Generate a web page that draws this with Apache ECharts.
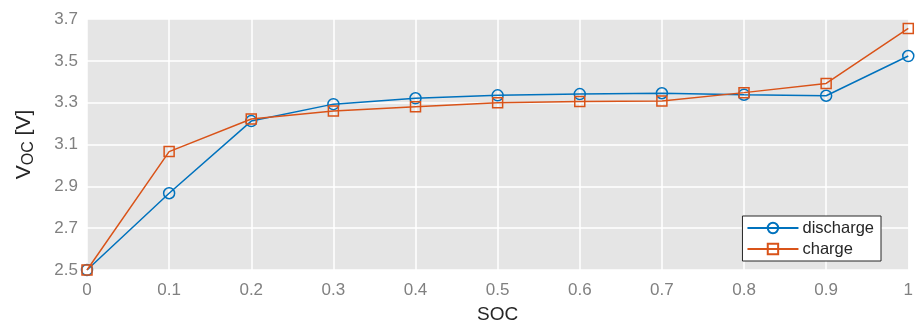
<!DOCTYPE html>
<html>
<head>
<meta charset="utf-8">
<script src="https://cdn.jsdelivr.net/npm/echarts@6/dist/echarts.min.js"></script>
<style>html,body{margin:0;padding:0;background:#fff}#c{width:916px;height:329px}</style>
</head>
<body>
<div id="c"></div>
<script>
const soc = [0, 0.1, 0.2, 0.3, 0.4, 0.5, 0.6, 0.7, 0.8, 0.9, 1];
const discharge = [2.50, 2.867, 3.212, 3.293, 3.321, 3.335, 3.341, 3.345, 3.338, 3.333, 3.523];
const charge = [2.50, 3.066, 3.222, 3.260, 3.281, 3.300, 3.305, 3.308, 3.348, 3.392, 3.655];
const seriesNames = ['discharge', 'charge'];

const chart = echarts.init(document.getElementById('c'));
const pairs = arr => soc.map((s, i) => [s, arr[i]]);
const fmt = v => String(+(+v).toFixed(1));
const blue = '#0072BD', orange = '#D95319';
const ff = 'Liberation Sans, Arial, sans-serif';

chart.setOption({
  animation: false,
  textStyle: { fontFamily: ff },
  grid: { left: 87, right: 5, top: 19, bottom: 59, show: true, backgroundColor: '#e5e5e5', borderWidth: 0 },
  legend: {
    right: 35, top: 216, orient: 'vertical',
    backgroundColor: '#fff', borderColor: '#262626', borderWidth: 1,
    padding: [3, 7, 3, 4], itemGap: 3, itemWidth: 51, itemHeight: 13,
    textStyle: { fontSize: 16.5, lineHeight: 18, color: '#262626', padding: [0, 0, 0, -1] },
    data: seriesNames
  },
  xAxis: {
    type: 'value', min: 0, max: 1, interval: 0.1,
    name: 'SOC', nameLocation: 'middle', nameGap: 35,
    nameTextStyle: { fontSize: 19, color: '#262626' },
    axisLine: { show: false }, axisTick: { show: false },
    axisLabel: { fontSize: 17, color: '#808080', margin: 12, formatter: fmt },
    splitLine: { show: true, lineStyle: { color: '#ffffff', width: 1.5 } }
  },
  yAxis: {
    type: 'value', min: 2.5, max: 3.7, interval: 0.2,
    name: '{v|V}{s|OC}{v| [V]}', nameLocation: 'middle', nameGap: 50, nameRotate: 90,
    nameTextStyle: {
      rich: {
        v: { fontSize: 21, color: '#262626', fontFamily: ff },
        s: { fontSize: 16, color: '#262626', verticalAlign: 'bottom', padding: [9, 0, 0, 0], fontFamily: ff }
      }
    },
    axisLine: { show: false }, axisTick: { show: false },
    axisLabel: { fontSize: 17, color: '#808080', margin: 9, formatter: fmt },
    splitLine: { show: true, lineStyle: { color: '#ffffff', width: 1.5 } }
  },
  series: [
    {
      name: seriesNames[0], type: 'line', data: pairs(discharge),
      symbol: 'circle', symbolSize: 11,
      lineStyle: { color: blue, width: 1.5 },
      itemStyle: { color: 'rgba(0,0,0,0)', borderColor: blue, borderWidth: 1.5 },
      z: 3
    },
    {
      name: seriesNames[1], type: 'line', data: pairs(charge),
      symbol: 'rect', symbolSize: 10,
      lineStyle: { color: orange, width: 1.5 },
      itemStyle: { color: 'rgba(0,0,0,0)', borderColor: orange, borderWidth: 1.5 },
      z: 4
    }
  ]
});
</script>
</body>
</html>
